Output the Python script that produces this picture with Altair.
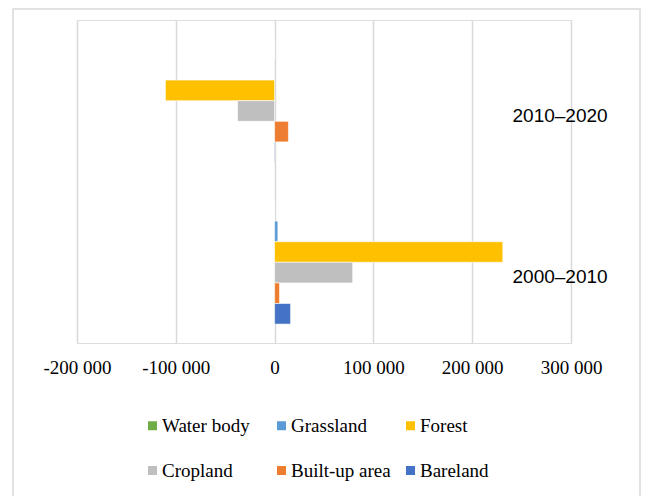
import altair as alt
import pandas as pd

periods = ["2010–2020", "2000–2010"]
types = ["Water body", "Grassland", "Forest", "Cropland", "Built-up area", "Bareland"]
colors = ["#70AD47", "#5B9BD5", "#FFC000", "#BFBFBF", "#ED7D31", "#4472C4"]
values_2010_2020 = [0, -400, -110500, -37500, 14000, -600]
values_2000_2010 = [0, 3300, 231000, 79000, 5000, 16200]
x_ticks = [-200000, -100000, 0, 100000, 200000, 300000]

rows = []
for p, vals in zip(periods, [values_2010_2020, values_2000_2010]):
    for t, v in zip(types, vals):
        rows.append({"period": p, "type": t, "value": v})
df = pd.DataFrame(rows)

label_expr = ("(datum.value < 0 ? '-' : '') + "
              "replace(format(abs(datum.value), ','), regexp(',', 'g'), ' ')")

bars = alt.Chart(df).mark_bar(stroke="white", strokeWidth=0.6).encode(
    x=alt.X("value:Q",
            scale=alt.Scale(domain=[-200000, 300000], nice=False, zero=False),
            axis=alt.Axis(values=x_ticks, title=None, grid=True, gridColor="#D9D9D9",
                          gridWidth=1.5, domain=False, ticks=False, tickSize=0,
                          labelOverlap=False, labelFlush=False,
                          labelExpr=label_expr, labelFont="Liberation Serif",
                          labelFontSize=19, labelColor="#000000", labelPadding=15)),
    y=alt.Y("period:N", sort=periods,
            scale=alt.Scale(paddingInner=0.235, paddingOuter=0.117),
            axis=alt.Axis(orient="right", title=None, domain=False, ticks=False,
                          tickSize=0, grid=False, labelAlign="left",
                          labelPadding=-59, labelOffset=15,
                          labelFont="Liberation Sans", labelFontSize=19,
                          labelColor="#000000")),
    yOffset=alt.YOffset("type:N", sort=types,
                        scale=alt.Scale(paddingInner=0, paddingOuter=0)),
    color=alt.Color("type:N",
                    scale=alt.Scale(domain=types, range=colors),
                    legend=alt.Legend(title=None, orient="none", legendX=66, legendY=396,
                                      direction="horizontal", columns=3, gridAlign="all",
                                      columnPadding=10, rowPadding=25,
                                      symbolType="square", symbolSize=81,
                                      symbolStrokeWidth=0, labelOffset=0,
                                      labelFont="Liberation Serif", labelFontSize=19,
                                      labelColor="#000000", padding=0,
                                      labelLimit=300)),
)

frame = alt.Chart(alt.Data(values=[{"a": 1}])).mark_rect(
    fill=None, stroke="#D9D9D9", strokeWidth=1.5
).encode(
    x=alt.value(-64), x2=alt.value(563), y=alt.value(-11), y2=alt.value(500)
)

chart = alt.layer(frame, bars).properties(
    width=494, height=323,
    autosize=alt.AutoSizeParams(type="none"),
    padding={"left": 69, "top": 12, "right": 70, "bottom": 153},
).configure_view(strokeWidth=0, stroke="transparent").configure(background="white")

chart.save("out.html", embed_options={"renderer": "svg", "actions": False})
